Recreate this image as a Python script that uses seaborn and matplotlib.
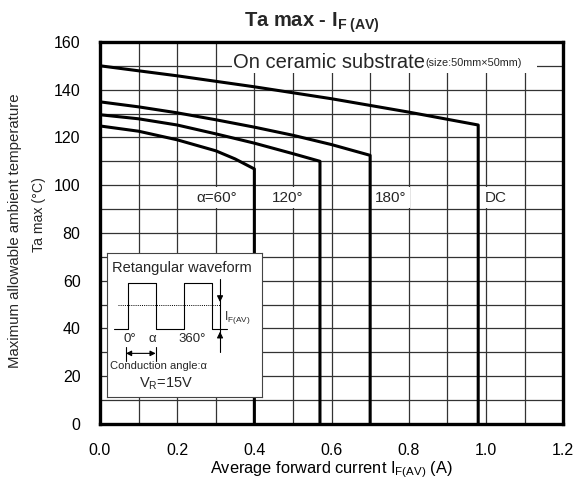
import numpy as np
import pandas as pd
import matplotlib
matplotlib.use("Agg")
import matplotlib.pyplot as plt
from matplotlib.patches import Rectangle
import seaborn as sns

# curve data: (I_F(AV) [A], Ta max [degC]); last point drops to 0
series_names = ["α=60°", "120°", "180°", "DC"]
x_60 = [0.0, 0.1, 0.2, 0.3, 0.35, 0.40, 0.40]
y_60 = [124.8, 122.6, 119.0, 114.4, 111.0, 106.8, 0.0]
x_120 = [0.0, 0.1, 0.2, 0.3, 0.4, 0.5, 0.57, 0.57]
y_120 = [129.5, 127.8, 125.2, 121.5, 117.6, 113.2, 110.0, 0.0]
x_180 = [0.0, 0.1, 0.2, 0.3, 0.4, 0.5, 0.6, 0.70, 0.70]
y_180 = [134.9, 132.8, 130.3, 127.4, 124.3, 120.9, 117.0, 112.5, 0.0]
x_dc = [0.0, 0.2, 0.4, 0.6, 0.8, 0.98, 0.98]
y_dc = [150.0, 145.8, 141.2, 136.2, 130.6, 125.2, 0.0]

x_ticks = [0.0, 0.2, 0.4, 0.6, 0.8, 1.0, 1.2]
y_ticks = [0, 20, 40, 60, 80, 100, 120, 140, 160]

sns.set_theme(style="white")
plt.rcParams["font.family"] = ["Liberation Sans", "DejaVu Sans"]
plt.rcParams["mathtext.fontset"] = "custom"
plt.rcParams["mathtext.rm"] = "Liberation Sans"
plt.rcParams["mathtext.it"] = "Liberation Sans"
plt.rcParams["mathtext.bf"] = "Liberation Sans:bold"

frames = []
for name, xs, ys in zip(series_names, [x_60, x_120, x_180, x_dc], [y_60, y_120, y_180, y_dc]):
    frames.append(pd.DataFrame({"current": xs, "temp": ys, "series": name}))
df = pd.concat(frames, ignore_index=True)

fig = plt.figure(figsize=(5.76, 4.8), dpi=100)
ax = fig.add_axes([0.1736, 0.1167, 0.804, 0.796])

sns.lineplot(data=df, x="current", y="temp", hue="series", units="series",
             estimator=None, sort=False, palette=["black"] * 4, linewidth=2.2,
             legend=False, ax=ax, zorder=3)

ax.set_xlim(0, 1.2)
ax.set_ylim(0, 160)
ax.set_xticks(x_ticks)
ax.set_xticklabels([f"{v:.1f}" for v in x_ticks])
ax.set_yticks(y_ticks)
ax.set_xticks(np.arange(0.1, 1.2, 0.2), minor=True)
ax.set_yticks(np.arange(10, 160, 20), minor=True)
ax.grid(True, which="both", color="#333333", linewidth=0.9)
ax.tick_params(which="both", length=0, labelsize=11.5, colors="black")
ax.tick_params(axis="x", pad=14)
ax.tick_params(axis="y", pad=14)
for sp in ax.spines.values():
    sp.set_visible(True)
    sp.set_linewidth(2.4)
    sp.set_color("black")
    sp.set_zorder(5)

ax.set_xlabel(r"Average forward current I$_{\mathrm{F(AV)}}$ (A)", fontsize=11.8,
              labelpad=1, color="black")
ax.set_ylabel("")
ax.set_title(r"Ta max - I$_{\mathbf{F\ (AV)}}$", fontsize=14.5, fontweight="bold", pad=11,
             x=0.457)

fig.text(0.026, 0.519, "Maximum allowable ambient temperature", rotation=90,
         ha="center", va="center", fontsize=10.8)
fig.text(0.067, 0.554, "Ta max (°C)", rotation=90, ha="center", va="center",
         fontsize=10.2)

# white background behind the substrate note
ax.add_patch(Rectangle((0.343, 146.8), 0.79, 14, facecolor="white", edgecolor="none",
                       zorder=2.5))
t1 = ax.text(0.345, 151.5, "On ceramic substrate", fontsize=14.5, ha="left",
             va="center", zorder=4)
ax.annotate("(size:50mm×50mm)", xy=(1.0, 0.45), xycoords=t1, fontsize=7.8,
            ha="left", va="center", zorder=4)

box = dict(facecolor="white", edgecolor="none", pad=2.5)
label_x = [0.250, 0.446, 0.713, 0.997]
for name, lx in zip(series_names, label_x):
    ax.text(lx, 94.8, name, fontsize=11, ha="left", va="center", bbox=box, zorder=4)

# inset with rectangular waveform
ins = ax.inset_axes([0.018, 11.3, 0.402, 60.2], transform=ax.transData, zorder=6)
ins.set_xlim(0, 155)
ins.set_ylim(145, 0)
ins.set_xticks([])
ins.set_yticks([])
ins.set_facecolor("white")
for sp in ins.spines.values():
    sp.set_linewidth(0.8)
    sp.set_color("#444444")
ins.text(75, 15, "Retangular waveform", ha="center", va="center", fontsize=10.5)
wave_x = [7, 20.7, 20.7, 48.7, 48.7, 77.3, 77.3, 105.3, 105.3, 119.7]
wave_y = [76.3, 76.3, 29.7, 29.7, 76.3, 76.3, 29.7, 29.7, 76.3, 76.3]
ins.plot(wave_x, wave_y, color="black", linewidth=0.8)
ins.plot([11, 113], [52, 52], color="black", linewidth=0.7, linestyle=(0, (1, 1.2)))
ins.plot([113, 113], [26, 100], color="black", linewidth=0.8)
ins.annotate("", xy=(113, 52), xytext=(113, 40),
             arrowprops=dict(arrowstyle="-|>", color="black", lw=0.8, mutation_scale=9))
ins.annotate("", xy=(113, 76.3), xytext=(113, 88),
             arrowprops=dict(arrowstyle="-|>", color="black", lw=0.8, mutation_scale=9))
ins.text(117, 65, r"I$_{\mathrm{F(AV)}}$", ha="left", va="center", fontsize=8.5)
ins.text(23, 86, "0°", ha="center", va="center", fontsize=9.5)
ins.text(45, 86, "α", ha="center", va="center", fontsize=9.5)
ins.text(85.5, 86, "360°", ha="center", va="center", fontsize=9.5)
ins.plot([19, 19], [95, 109], color="black", linewidth=0.8)
ins.plot([48.7, 48.7], [95, 109], color="black", linewidth=0.8)
ins.annotate("", xy=(19, 101), xytext=(48.7, 101),
             arrowprops=dict(arrowstyle="<|-|>", color="black", lw=0.8, mutation_scale=8,
                             shrinkA=0, shrinkB=0))
ins.text(3, 114, "Conduction angle:α", ha="left", va="center", fontsize=8)
ins.text(59, 132, r"V$_{\mathrm{R}}$=15V", ha="center", va="center", fontsize=10.5)

fig.savefig("out.png", dpi=100)
